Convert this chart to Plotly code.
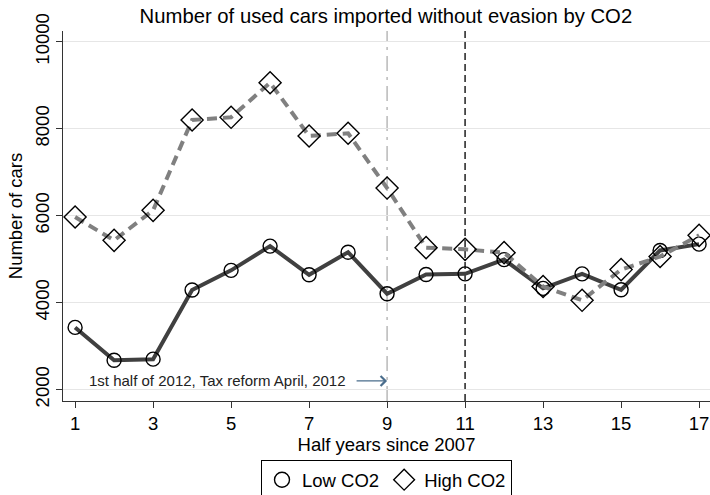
import plotly.graph_objects as go

# Half-year index since 2007
half_years = list(range(1, 18))

# Used cars imported without evasion, by CO2 group
low_co2 = [3430, 2675, 2700, 4290, 4742, 5300, 4640, 5160, 4205,
           4648, 4662, 4990, 4328, 4662, 4295, 5200, 5345]
high_co2 = [5968, 5432, 6122, 8200, 8261, 9057, 7832, 7894, 6634,
            5264, 5225, 5149, 4370, 4053, 4759, 5060, 5547]

x_ticks = [1, 3, 5, 7, 9, 11, 13, 15, 17]
y_ticks = [2000, 4000, 6000, 8000, 10000]
y_tick_labels = ["2000", "4000", "6000", "8000", "10000"]

reform_period = 9      # 1st half of 2012
reform_marker = 11     # second reference line
note_level = 2200
note_text = "1st half of 2012, Tax reform April, 2012"

FONT = "Liberation Sans, Arial, sans-serif"

fig = go.Figure()

fig.add_trace(go.Scatter(
    x=half_years, y=low_co2, mode="lines+markers", name="Low CO2",
    showlegend=False,
    line=dict(color="#404040", width=4),
    marker=dict(symbol="circle-open", size=14, color="black",
                line=dict(width=1.4, color="black")),
))
fig.add_trace(go.Scatter(
    x=half_years, y=high_co2, mode="lines+markers", name="High CO2",
    showlegend=False,
    line=dict(color="#808080", width=4, dash="10px,6px"),
    marker=dict(symbol="diamond-open", size=17, color="black",
                line=dict(width=1.4, color="black")),
))

# legend entries show the marker symbol only
for name, sym, sz in [("Low CO2", "circle-open", 15), ("High CO2", "diamond-open", 18)]:
    fig.add_trace(go.Scatter(
        x=[None], y=[None], mode="markers", name=name,
        marker=dict(symbol=sym, size=sz, color="black",
                    line=dict(width=1.4, color="black")),
    ))

fig.add_shape(type="line", xref="x", yref="paper",
              x0=reform_period, x1=reform_period, y0=0, y1=1,
              line=dict(color="#a8a8a8", width=1.2, dash="longdashdot"),
              layer="below")
fig.add_shape(type="line", xref="x", yref="paper",
              x0=reform_marker, x1=reform_marker, y0=0, y1=1,
              line=dict(color="#202020", width=1.5, dash="7px,4px"),
              layer="below")

fig.add_annotation(
    x=reform_period, y=note_level, xref="x", yref="y",
    text=note_text, showarrow=False, xanchor="right", xshift=-39,
    font=dict(family=FONT, size=15, color="#222222"),
)
fig.add_annotation(
    x=reform_period, y=note_level, xref="x", yref="y",
    text="", showarrow=True, ax=-32, ay=0,
    arrowhead=4, arrowsize=1.6, arrowwidth=1.2, arrowcolor="#4a6d8c",
    standoff=0,
)

fig.update_layout(
    width=710, height=495,
    margin=dict(l=63, r=0, t=31, b=94, autoexpand=False),
    paper_bgcolor="white", plot_bgcolor="white",
    font=dict(family=FONT, size=18.5, color="black"),
    title=dict(text="Number of used cars imported without evasion by CO2",
               x=0.5435, xanchor="center", y=1 - 16 / 495, yanchor="middle",
               font=dict(family=FONT, size=20.3, color="black")),
    legend=dict(orientation="h", x=0.5, xanchor="center",
                y=-0.16, yanchor="top",
                bordercolor="black", borderwidth=1,
                font=dict(family=FONT, size=18.5), itemwidth=30,
                traceorder="normal"),
    xaxis=dict(range=[0.69, 17.28], tickvals=x_ticks,
               showgrid=False, zeroline=False,
               showline=True, linecolor="#333333", linewidth=1.2,
               ticks="outside", ticklen=6, tickcolor="#333333",
               title=dict(text="Half years since 2007", standoff=2,
                          font=dict(size=18.5))),
    yaxis=dict(range=[1738, 10246], tickvals=y_ticks, ticktext=y_tick_labels,
               tickangle=-90,
               showgrid=True, gridcolor="#e6e6e6", gridwidth=1,
               zeroline=False,
               showline=True, linecolor="#333333", linewidth=1.2,
               ticks="outside", ticklen=6, tickcolor="#333333",
               title=dict(text="Number of cars", standoff=4,
                          font=dict(size=18.5))),
)

fig.write_html("out.html")
